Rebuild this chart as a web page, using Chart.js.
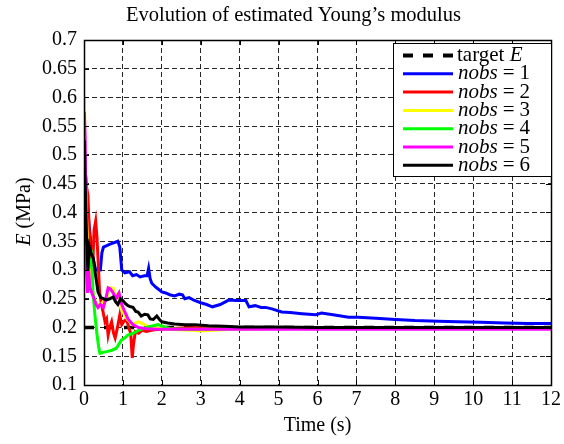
<!DOCTYPE html>
<html>
<head>
<meta charset="utf-8">
<script src="https://cdn.jsdelivr.net/npm/chart.js@4"></script>
<style>
  html, body { margin: 0; padding: 0; background: #fff; }
  #wrap { width: 564px; height: 444px; position: relative; }
</style>
</head>
<body>
<div id="wrap"><canvas id="chart"></canvas></div>
<script>
// Estimated Young's modulus vs time.
var titleText = "Evolution of estimated Young\u2019s modulus";
var targetE = 0.2;
var targetT = [0, 12];

var t1 = [0.01, 0.05, 0.1, 0.2, 0.3, 0.42, 0.46, 0.5, 0.67, 0.87, 0.92, 0.97, 1.05, 1.17, 1.25, 1.35, 1.44, 1.55, 1.62, 1.66, 1.7, 1.74, 1.85, 2.0, 2.1, 2.2, 2.33, 2.45, 2.53, 2.59, 2.7, 2.84, 3.0, 3.15, 3.3, 3.5, 3.73, 3.9, 4.16, 4.24, 4.4, 4.55, 4.67, 4.85, 5.08, 5.3, 5.6, 5.95, 6.1, 6.4, 6.8, 7.05, 7.5, 8.0, 8.5, 9.1, 9.6, 10.2, 10.8, 11.4, 12];
var e1 = [0.48, 0.46, 0.40, 0.33, 0.30, 0.30, 0.33, 0.34, 0.345, 0.35, 0.34, 0.30, 0.295, 0.297, 0.29, 0.292, 0.288, 0.29, 0.29, 0.303, 0.285, 0.277, 0.27, 0.262, 0.26, 0.257, 0.255, 0.258, 0.257, 0.25, 0.252, 0.247, 0.243, 0.24, 0.236, 0.24, 0.248, 0.247, 0.247, 0.236, 0.238, 0.235, 0.235, 0.232, 0.227, 0.226, 0.224, 0.222, 0.225, 0.222, 0.218, 0.218, 0.216, 0.214, 0.212, 0.211, 0.21, 0.209, 0.208, 0.207, 0.207];

var t2 = [0.01, 0.05, 0.1, 0.14, 0.18, 0.22, 0.26, 0.3, 0.33, 0.36, 0.4, 0.45, 0.49, 0.54, 0.58, 0.62, 0.66, 0.71, 0.76, 0.8, 0.86, 0.92, 0.97, 1.02, 1.09, 1.15, 1.2, 1.24, 1.27, 1.32, 1.4, 1.5, 1.6, 1.8, 2.0, 2.5, 3, 4, 6, 8, 10, 12];
var e2 = [0.47, 0.45, 0.43, 0.36, 0.29, 0.3, 0.37, 0.385, 0.36, 0.32, 0.262, 0.24, 0.227, 0.21, 0.215, 0.187, 0.2, 0.21, 0.19, 0.182, 0.2, 0.222, 0.205, 0.21, 0.215, 0.2, 0.19, 0.147, 0.17, 0.193, 0.19, 0.195, 0.193, 0.196, 0.197, 0.199, 0.2, 0.2, 0.2, 0.2, 0.2, 0.2];

var t3 = [0.01, 0.03, 0.06, 0.1, 0.15, 0.2, 0.25, 0.3, 0.35, 0.41, 0.5, 0.58, 0.67, 0.75, 0.82, 0.9, 0.96, 1.05, 1.13, 1.25, 1.4, 1.55, 1.7, 2.0, 2.4, 2.8, 3.0, 3.3, 3.8, 4.5, 5.5, 7, 9, 12];
var e3 = [0.6, 0.5, 0.4, 0.33, 0.29, 0.27, 0.255, 0.245, 0.24, 0.239, 0.245, 0.25, 0.269, 0.268, 0.255, 0.26, 0.232, 0.22, 0.213, 0.205, 0.21, 0.205, 0.2, 0.198, 0.196, 0.195, 0.194, 0.195, 0.197, 0.198, 0.199, 0.199, 0.2, 0.2];

var t4 = [0.01, 0.05, 0.1, 0.16, 0.2, 0.23, 0.28, 0.33, 0.38, 0.41, 0.5, 0.58, 0.7, 0.83, 0.96, 1.05, 1.13, 1.26, 1.4, 1.6, 1.9, 2.2, 2.6, 3, 4, 6, 9, 12];
var e4 = [0.33, 0.31, 0.3, 0.31, 0.32, 0.262, 0.222, 0.19, 0.165, 0.155, 0.157, 0.158, 0.16, 0.164, 0.178, 0.182, 0.187, 0.19, 0.195, 0.2, 0.205, 0.198, 0.197, 0.197, 0.198, 0.199, 0.2, 0.2];

var t5 = [0.01, 0.03, 0.06, 0.09, 0.12, 0.15, 0.2, 0.26, 0.31, 0.36, 0.42, 0.5, 0.56, 0.62, 0.68, 0.75, 0.82, 0.9, 0.97, 1.05, 1.13, 1.26, 1.4, 1.6, 1.9, 2.3, 3, 4, 6, 9, 12];
var e5 = [0.575, 0.53, 0.31, 0.26, 0.3, 0.27, 0.26, 0.25, 0.24, 0.235, 0.24, 0.235, 0.25, 0.269, 0.267, 0.26, 0.25, 0.26, 0.24, 0.227, 0.215, 0.205, 0.2, 0.198, 0.197, 0.197, 0.197, 0.197, 0.197, 0.197, 0.197];

var t6 = [0.01, 0.03, 0.06, 0.1, 0.14, 0.18, 0.24, 0.3, 0.36, 0.43, 0.5, 0.58, 0.66, 0.75, 0.81, 0.87, 0.94, 1.0, 1.06, 1.13, 1.2, 1.26, 1.33, 1.39, 1.47, 1.56, 1.64, 1.7, 1.78, 1.87, 1.94, 2.0, 2.15, 2.33, 2.6, 2.84, 3.2, 3.6, 4, 5, 6, 8, 10, 12];
var e6 = [0.525, 0.45, 0.37, 0.3, 0.34, 0.33, 0.32, 0.29, 0.262, 0.252, 0.25, 0.248, 0.25, 0.253, 0.245, 0.24, 0.25, 0.247, 0.242, 0.238, 0.236, 0.235, 0.228, 0.227, 0.22, 0.223, 0.222, 0.215, 0.214, 0.22, 0.214, 0.21, 0.208, 0.206, 0.205, 0.205, 0.203, 0.202, 0.201, 0.201, 0.2, 0.2, 0.2, 0.2];

var seriesT = [t1, t2, t3, t4, t5, t6];
var seriesE = [e1, e2, e3, e4, e5, e6];
var seriesColors = ["#0000ff", "#ff0000", "#ffff00", "#00ff00", "#ff00ff", "#000000"];

var serif = "'Liberation Serif', 'Times New Roman', serif";

function pts(ts, es) {
  return ts.map(function (x, i) { return { x: x, y: es[i] }; });
}

function buildDatasets() {
  var sets = [{
    label: "target E",
    data: pts(targetT, [targetE, targetE]),
    borderColor: "#000",
    borderWidth: 3.5,
    borderDash: [10, 10],
    pointRadius: 0,
    order: 10,
  }];
  seriesT.forEach(function (ts, i) {
    sets.push({
      label: "nobs = " + (i + 1),
      data: pts(ts, seriesE[i]),
      borderColor: seriesColors[i],
      borderWidth: 3,
      pointRadius: 0,
      tension: 0,
      order: 6 - i,
    });
  });
  return sets;
}

// box, inward ticks, y title with italic E, and a LaTeX-ish legend
var decor = {
  id: "decor",
  afterDatasetsDraw: function (chart) {
    var ctx = chart.ctx, a = chart.chartArea;
    var xs = chart.scales.x, ys = chart.scales.y;
    ctx.save();
    ctx.strokeStyle = "#000";
    ctx.lineWidth = 1;
    ctx.beginPath();
    xs.ticks.forEach(function (tk) {
      var px = Math.round(xs.getPixelForValue(tk.value)) + 0.5;
      ctx.moveTo(px, a.bottom); ctx.lineTo(px, a.bottom - 5);
      ctx.moveTo(px, a.top); ctx.lineTo(px, a.top + 5);
    });
    ys.ticks.forEach(function (tk) {
      var py = Math.round(ys.getPixelForValue(tk.value)) + 0.5;
      ctx.moveTo(a.left, py); ctx.lineTo(a.left + 5, py);
      ctx.moveTo(a.right, py); ctx.lineTo(a.right - 5, py);
    });
    ctx.stroke();
    ctx.lineWidth = 1.5;
    ctx.strokeRect(Math.round(a.left) + 0.5, Math.round(a.top) + 0.5,
      Math.round(a.right - a.left), Math.round(a.bottom - a.top));
    ctx.restore();
  },
  afterDraw: function (chart) {
    var ctx = chart.ctx, a = chart.chartArea;
    ctx.save();
    ctx.fillStyle = "#000";
    ctx.textBaseline = "middle";

    // y axis title
    var it = "italic 20px " + serif, rm = "20px " + serif;
    ctx.font = it; var wE = ctx.measureText("E").width;
    ctx.font = rm; var wR = ctx.measureText(" (MPa)").width;
    ctx.translate(25, (a.top + a.bottom) / 2 - 1);
    ctx.rotate(-Math.PI / 2);
    ctx.textAlign = "left";
    ctx.font = it; ctx.fillText("E", -(wE + wR) / 2, 0);
    ctx.font = rm; ctx.fillText(" (MPa)", -(wE + wR) / 2 + wE, 0);
    ctx.setTransform(1, 0, 0, 1, 0, 0);

    // legend
    var bx = 393, by = 43, bw = 158, bh = 133;
    ctx.fillStyle = "#fff";
    ctx.fillRect(bx, by, bw, bh);
    ctx.strokeStyle = "#000";
    ctx.lineWidth = 1;
    ctx.strokeRect(bx + 0.5, by + 0.5, bw, bh);
    var rowY = function (i) { return 55.5 + i * 18.3; };
    var lit = "italic 21px " + serif, lrm = "21px " + serif;
    ctx.lineWidth = 4;
    ctx.setLineDash([10, 10]);
    ctx.beginPath(); ctx.moveTo(403, rowY(0)); ctx.lineTo(453, rowY(0)); ctx.stroke();
    ctx.setLineDash([]);
    ctx.fillStyle = "#000";
    ctx.font = lrm; ctx.fillText("target ", 457, rowY(0));
    var wt = ctx.measureText("target ").width;
    ctx.font = lit; ctx.fillText("E", 457 + wt, rowY(0));
    ctx.lineWidth = 3;
    for (var i = 0; i < 6; i++) {
      var y = rowY(i + 1);
      ctx.strokeStyle = seriesColors[i];
      ctx.beginPath(); ctx.moveTo(403, y); ctx.lineTo(453, y); ctx.stroke();
      ctx.font = lit; ctx.fillText("nobs", 458, y);
      var wn = ctx.measureText("nobs").width;
      ctx.font = lrm;
      var xEq = 458 + wn + 5;
      ctx.fillText("=", xEq, y);
      var wq = ctx.measureText("=").width;
      ctx.fillText(String(i + 1), xEq + wq + 5, y);
    }
    ctx.restore();
  },
};

function init() {
  var canvas = document.getElementById("chart");
  if (!canvas || typeof Chart === "undefined") return;
  Chart.defaults.font.family = serif;
  Chart.defaults.color = "#000";
  new Chart(canvas, {
    type: "line",
    data: { datasets: buildDatasets() },
    options: {
      responsive: true,
      maintainAspectRatio: false,
      animation: false,
      layout: { padding: { left: 33, right: 10, top: 0, bottom: 0 } },
      scales: {
        x: {
          type: "linear",
          min: 0,
          max: 12,
          afterFit: function (s) { s.height = 59; },
          ticks: { stepSize: 1, padding: 3, font: { size: 20 }, maxRotation: 0 },
          grid: { color: "rgba(0,0,0,0.85)", lineWidth: 1, drawTicks: false },
          border: { display: false, dash: [5, 3] },
          title: { display: true, text: "Time (s)", font: { size: 20 }, padding: { top: 0, bottom: 6 } },
        },
        y: {
          min: 0.1,
          max: 0.7,
          afterFit: function (s) { s.width = 51; },
          ticks: {
            stepSize: 0.05,
            padding: 7,
            font: { size: 20 },
            callback: function (v) { return String(Number(v.toFixed(2))); },
          },
          grid: { color: "rgba(0,0,0,0.85)", lineWidth: 1, drawTicks: false },
          border: { display: false, dash: [5, 3] },
        },
      },
      plugins: {
        legend: { display: false },
        tooltip: { enabled: false },
        title: {
          display: true,
          text: titleText,
          font: { size: 20.5, weight: "normal" },
          color: "#000",
          padding: { top: 3, bottom: 12.4 },
        },
      },
    },
    plugins: [decor],
  });
}

if (document.readyState === "loading") {
  document.addEventListener("DOMContentLoaded", init);
} else {
  init();
}
</script>
</body>
</html>
